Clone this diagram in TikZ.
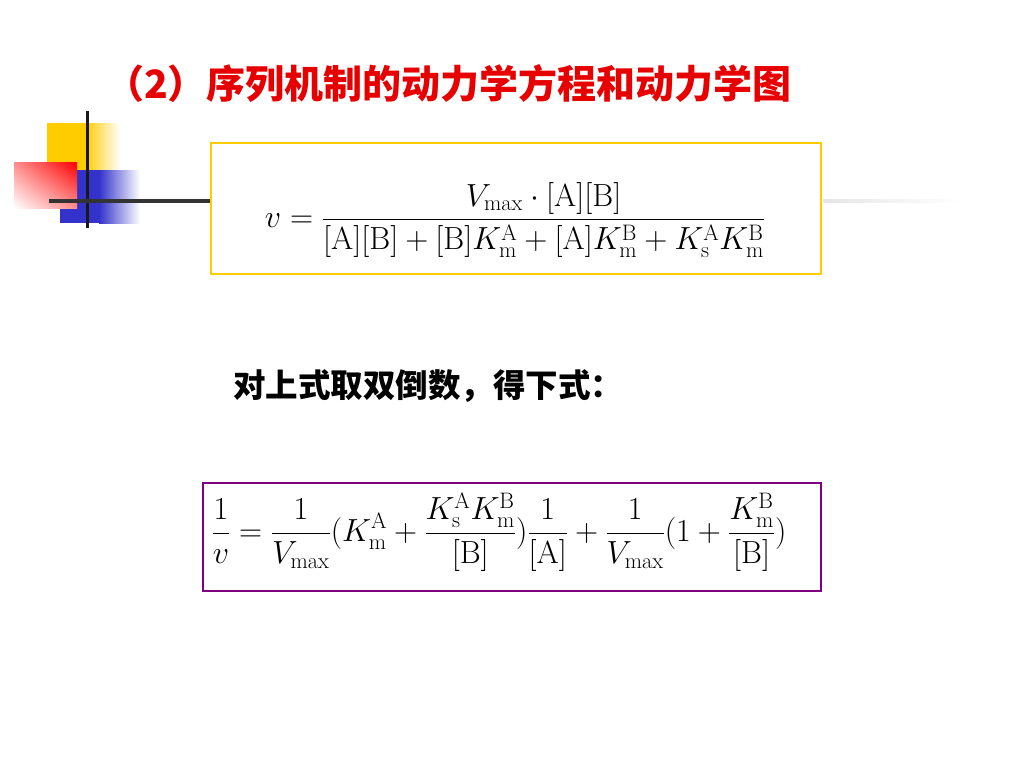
\RequirePackage{fix-cm}
\documentclass[tikz,border=0pt]{standalone}
\usepackage{amsmath}
\usepackage{fontspec}
\newfontfamily\cjk{Noto Sans CJK SC}
\usetikzlibrary{positioning,shadings}
\definecolor{slideyellow}{RGB}{255,204,0}
\definecolor{slideblue}{RGB}{51,51,204}
\definecolor{slidepurple}{RGB}{128,0,128}
\definecolor{slidered}{RGB}{230,0,0}
\begin{document}
\begin{tikzpicture}[x=1pt, y=-1pt,
        title/.style={font=\cjk\bfseries\fontsize{39}{42}\selectfont, text=slidered, inner sep=0pt},
        note/.style={font=\cjk\bfseries\fontsize{32.5}{35}\selectfont, inner sep=0pt},
        eqbox/.style={draw, line width=2pt, fill=white, inner sep=0pt},
        formula/.style={inner sep=0pt, font=\fontsize{32}{36}\selectfont}
    ]
    \useasboundingbox[fill=white] (0,0) rectangle (1024,768);

    % corner decoration
    \fill[slideyellow] (47,123) rectangle (86,170);
    \shade[left color=slideyellow, right color=white] (85,123) rectangle (120,170);
    \fill[slideblue] (60,170) rectangle (100,223);
    \shade[left color=slideblue, right color=white] (99,170) rectangle (140,223);
    \shade[upper left=red!45, upper right=red, lower left=white, lower right=red!45] (14,162) rectangle (77,208);
    \draw[line width=3pt, black!90] (87,111) -- (87,228);
    \draw[line width=4pt, black!80] (49,201) -- (211,201);
    \shade[left color=black!10, right color=white] (823,199) rectangle (960,202);

    \node[title, anchor=west] (heading) at (105,84) {（2）序列机制的动力学方程和动力学图};

    \node[eqbox, draw=slideyellow, minimum width=610pt, minimum height=131pt] (rateBox) at (516,208.5) {};
    \node[formula] (rateEq) at (515,220)
        {$\displaystyle v=\frac{V_{\max}\cdot[\mathrm{A}][\mathrm{B}]}{[\mathrm{A}][\mathrm{B}]+[\mathrm{B}]K_{\mathrm{m}}^{\mathrm{A}}+[\mathrm{A}]K_{\mathrm{m}}^{\mathrm{B}}+K_{\mathrm{s}}^{\mathrm{A}}K_{\mathrm{m}}^{\mathrm{B}}}$};

    \node[note, anchor=west] (hint) at (233,386) {对上式取双倒数，得下式：};

    \node[eqbox, draw=slidepurple, minimum width=618pt, minimum height=108pt] (recipBox) at (512,537) {};
    \node[formula] (recipEq) at (499,532)
        {$\displaystyle \frac{1}{v}=\frac{1}{V_{\max}}(K_{\mathrm{m}}^{\mathrm{A}}+\frac{K_{\mathrm{s}}^{\mathrm{A}}K_{\mathrm{m}}^{\mathrm{B}}}{[\mathrm{B}]})\frac{1}{[\mathrm{A}]}+\frac{1}{V_{\max}}(1+\frac{K_{\mathrm{m}}^{\mathrm{B}}}{[\mathrm{B}]})$};
\end{tikzpicture}
\end{document}
